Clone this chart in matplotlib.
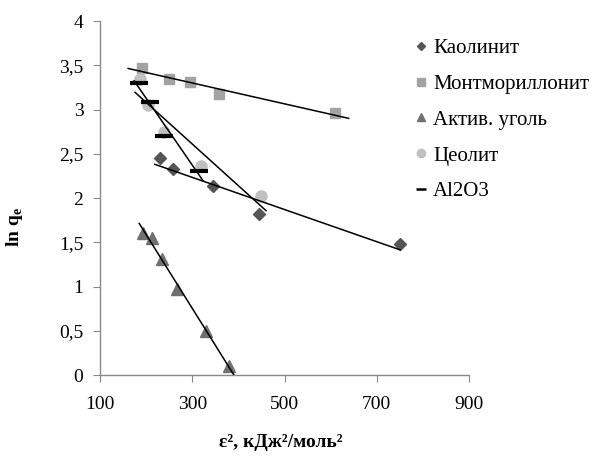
import numpy as np
import matplotlib.pyplot as plt
from matplotlib.lines import Line2D

plt.rcParams['font.family'] = ['Liberation Serif', 'DejaVu Serif']
plt.rcParams['mathtext.fontset'] = 'custom'
plt.rcParams['mathtext.rm'] = 'Liberation Serif'
plt.rcParams['mathtext.bf'] = 'Liberation Serif:bold'

# Dubinin-Radushkevich: ln q_e vs eps^2
kaolinite_x = [229, 258, 344, 444, 751]
kaolinite_y = [2.45, 2.33, 2.13, 1.82, 1.48]

montmor_x = [190, 250, 295, 359, 609]
montmor_y = [3.47, 3.35, 3.31, 3.17, 2.96]

carbon_x = [194, 213, 234, 268, 330, 380]
carbon_y = [1.60, 1.55, 1.31, 0.97, 0.50, 0.10]

zeolite_x = [186, 205, 239, 319, 449]
zeolite_y = [3.35, 3.05, 2.75, 2.36, 2.02]

al2o3_x = [185, 208, 239, 315]
al2o3_y = [3.30, 3.09, 2.70, 2.31]

labels = ['Каолинит', 'Монтмориллонит', 'Актив. уголь', 'Цеолит', 'Al2O3']

# x-range of each linear trendline
trend_spans = [(219, 751), (161, 639), (185, 391), (176, 460), (174, 324)]

series = [
    (kaolinite_x, kaolinite_y, dict(marker='D', ms=6.0, color='#555555')),
    (montmor_x, montmor_y, dict(marker='s', ms=7.0, color='#a3a3a3')),
    (carbon_x, carbon_y, dict(marker='^', ms=8.0, color='#707070')),
    (zeolite_x, zeolite_y, dict(marker='o', ms=8.0, color='#c0c0c0')),
    (al2o3_x, al2o3_y, dict(marker='_', ms=13, mew=3.0, color='black')),
]

fig = plt.figure(figsize=(5.95, 4.57), dpi=100)
ax = fig.add_axes([100 / 595, 1 - 375 / 457, 369 / 595, 354 / 457])

handles = []
for (xs, ys, st), lab, span in zip(series, labels, trend_spans):
    ax.plot(xs, ys, linestyle='none', zorder=2, **st)
    k, b = np.polyfit(xs, ys, 1)
    xx = np.array(span)
    ax.plot(xx, k * xx + b, color='black', lw=1.1, zorder=3)
    hs = dict(st)
    if hs['marker'] == '_':
        hs['ms'] = 7
        hs['mew'] = 1.8
    else:
        hs['ms'] = hs['ms'] * 0.75
    handles.append(Line2D([], [], linestyle='none', label=lab, **hs))

ax.set_xlim(100, 900)
ax.set_ylim(0, 4)
ax.set_xticks([100, 300, 500, 700, 900])
ax.set_yticks(np.arange(0, 4.01, 0.5))
ax.set_yticklabels(['0', '0,5', '1', '1,5', '2', '2,5', '3', '3,5', '4'])

for side in ['top', 'right']:
    ax.spines[side].set_visible(False)
for side in ['left', 'bottom']:
    ax.spines[side].set_color('#888888')
    ax.spines[side].set_linewidth(1.0)

ax.tick_params(axis='both', colors='#888888', labelcolor='black',
               labelsize=14, length=5, direction='out')
ax.tick_params(axis='y', pad=7)
ax.tick_params(axis='x', pad=10)

ax.set_ylabel(r'ln q$_\mathbf{e}$', fontsize=14, fontweight='bold')
ax.yaxis.set_label_coords(-0.203, 0.418)
ax.set_xlabel('ε², кДж²/моль²', fontsize=14, fontweight='bold')
ax.xaxis.set_label_coords(0.49, -0.168)

fig.legend(handles=handles, loc='upper left',
           bbox_to_anchor=(404 / 595, 1 - 28 / 457),
           frameon=False, fontsize=15, handlelength=0.6,
           handletextpad=0.3, labelspacing=0.78, borderpad=0)

fig.savefig('out.png', dpi=100)
